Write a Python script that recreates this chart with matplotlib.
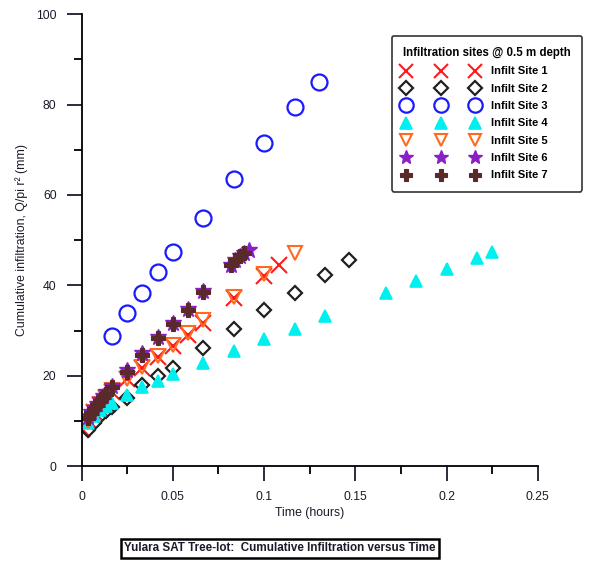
import matplotlib
matplotlib.use("Agg")
import matplotlib.pyplot as plt
from matplotlib.ticker import MultipleLocator

plt.rcParams['font.family'] = ['Liberation Sans', 'DejaVu Sans']

# ---------------- data ----------------
t1 = [0.0, 0.0033, 0.0067, 0.01, 0.0133, 0.0167, 0.025, 0.0333, 0.0417, 0.05, 0.0583, 0.0667, 0.0833, 0.1, 0.1083]
y1 = [8.2, 10.3, 12.0, 13.6, 15.0, 16.4, 19.2, 21.8, 24.2, 26.6, 29.0, 31.6, 37.2, 42.0, 44.5]

t2 = [0.0033, 0.0067, 0.01, 0.0133, 0.0167, 0.025, 0.0333, 0.0417, 0.05, 0.0667, 0.0833, 0.1, 0.1167, 0.1333, 0.1467]
y2 = [8.0, 9.6, 11.0, 12.2, 13.1, 15.0, 18.0, 19.9, 21.7, 26.1, 30.3, 34.5, 38.3, 42.3, 45.5]

t3 = [0.0167, 0.025, 0.0333, 0.0417, 0.05, 0.0667, 0.0833, 0.1, 0.1167, 0.13]
y3 = [28.8, 33.8, 38.3, 42.9, 47.3, 54.9, 63.5, 71.5, 79.4, 85.0]

t4 = [0.0033, 0.0067, 0.01, 0.0133, 0.0167, 0.025, 0.0333, 0.0417, 0.05, 0.0667, 0.0833, 0.1, 0.1167, 0.1333,
      0.1667, 0.1833, 0.2, 0.2167, 0.225]
y4 = [9.5, 11.0, 12.4, 13.2, 13.9, 15.7, 17.5, 18.8, 20.4, 22.8, 25.4, 28.1, 30.3, 33.2,
      38.3, 40.9, 43.6, 46.0, 47.3]

t5 = [0.0033, 0.0067, 0.01, 0.0133, 0.0167, 0.025, 0.0333, 0.0417, 0.05, 0.0583, 0.0667, 0.0833, 0.1, 0.1167]
y5 = [10.0, 12.0, 13.8, 15.3, 16.8, 19.2, 21.9, 24.3, 26.9, 29.5, 32.3, 37.5, 42.5, 47.1]

t6 = [0.0033, 0.005, 0.0067, 0.0083, 0.01, 0.0117, 0.0133, 0.0167, 0.025, 0.0333, 0.0417, 0.05, 0.0583, 0.0667,
      0.0817, 0.0842, 0.0867, 0.0892, 0.0917]
y6 = [10.8, 11.9, 12.9, 13.8, 14.7, 15.5, 16.3, 17.7, 21.2, 25.0, 28.6, 31.7, 34.8, 38.7,
      44.6, 45.6, 46.5, 47.2, 47.8]

t7 = [0.0033, 0.005, 0.0067, 0.0083, 0.01, 0.0117, 0.0133, 0.0167, 0.025, 0.0333, 0.0417, 0.05, 0.0583, 0.0667,
      0.0817, 0.0842, 0.0867, 0.0892]
y7 = [10.6, 11.7, 12.7, 13.6, 14.5, 15.3, 16.0, 17.5, 20.8, 24.6, 28.3, 31.4, 34.5, 38.5,
      44.5, 45.5, 46.4, 47.1]

labels = ["Infilt Site 1", "Infilt Site 2", "Infilt Site 3", "Infilt Site 4",
          "Infilt Site 5", "Infilt Site 6", "Infilt Site 7"]
xticks = [0, 0.05, 0.1, 0.15, 0.2, 0.25]
xticklabels = ["0", "0.05", "0.1", "0.15", "0.2", "0.25"]
yticks = [0, 20, 40, 60, 80, 100]
yticklabels = ["0", "20", "40", "60", "80", "100"]

# ---------------- figure ----------------
fig = plt.figure(figsize=(5.91, 5.65), dpi=100)
ax = fig.add_axes([0.138, 0.175, 0.772, 0.80])

handles = []
h, = ax.plot(t1, y1, ls='none', marker='x', ms=11, mew=1.5, color='#ff1a1a', label=labels[0]); handles.append(h)
h, = ax.plot(t2, y2, ls='none', marker='D', ms=7.5, mew=1.6, mfc='none', color='#202020', label=labels[1]); handles.append(h)
h, = ax.plot(t3, y3, ls='none', marker='o', ms=11.5, mew=1.6, mfc='none', color='#1a1aff', label=labels[2]); handles.append(h)
h, = ax.plot(t4, y4, ls='none', marker='^', ms=9, mew=1.2, color='#00f0f0', label=labels[3]); handles.append(h)
h, = ax.plot(t5, y5, ls='none', marker='v', ms=10, mew=1.5, mfc='none', color='#ff6a1f', label=labels[4]); handles.append(h)
h, = ax.plot(t6, y6, ls='none', marker='*', ms=12, mew=1.0, color='#8a1fc8', label=labels[5]); handles.append(h)
h, = ax.plot(t7, y7, ls='none', marker='P', ms=10, mew=0.8, color='#5a2a2a', mfc='#5a2a2a', label=labels[6]); handles.append(h)

ax.set_xlim(0, 0.25)
ax.set_ylim(0, 100)
ax.set_xticks(xticks, xticklabels)
ax.set_yticks(yticks, yticklabels)
ax.xaxis.set_minor_locator(MultipleLocator(0.025))
ax.yaxis.set_minor_locator(MultipleLocator(10))

for s in ['top', 'right']:
    ax.spines[s].set_visible(False)
for s in ['left', 'bottom']:
    ax.spines[s].set_linewidth(1.3)
ax.tick_params(which='major', direction='out', length=11, width=1.3, labelsize=8.8, pad=7, colors='#1a1a2a')
ax.tick_params(which='minor', direction='out', length=6, width=1.3)

ax.set_xlabel("Time (hours)", fontsize=8.8, labelpad=3, color='#1a1a2a')
ax.set_ylabel("Cumulative infiltration, Q/pi r\u00b2 (mm)", fontsize=8.8, labelpad=6, color='#1a1a2a')

leg = fig.legend(handles=handles, loc='upper left', bbox_to_anchor=(392/591, 1 - 36/565),
                 numpoints=3, title="Infiltration sites @ 0.5 m depth", fontsize=8.0,
                 title_fontsize=8.3, frameon=True, fancybox=True, edgecolor='black',
                 handlelength=6.8, handletextpad=1.1, labelspacing=0.66, borderpad=1.0,
                 borderaxespad=0, markerscale=0.9, alignment='left')
leg.get_frame().set_linewidth(1.2)
leg.get_title().set_fontweight('bold')
for txt in leg.get_texts():
    txt.set_fontweight('bold')

fig.text(0.474, 1 - 548/565, "Yulara SAT Tree-lot:  Cumulative Infiltration versus Time",
         ha='center', va='center', fontsize=8.4, fontweight='bold', color='#1a1a2a',
         bbox=dict(boxstyle='square,pad=0.3', facecolor='white', edgecolor='black', linewidth=1.8))

fig.savefig("out.png", dpi=100)
